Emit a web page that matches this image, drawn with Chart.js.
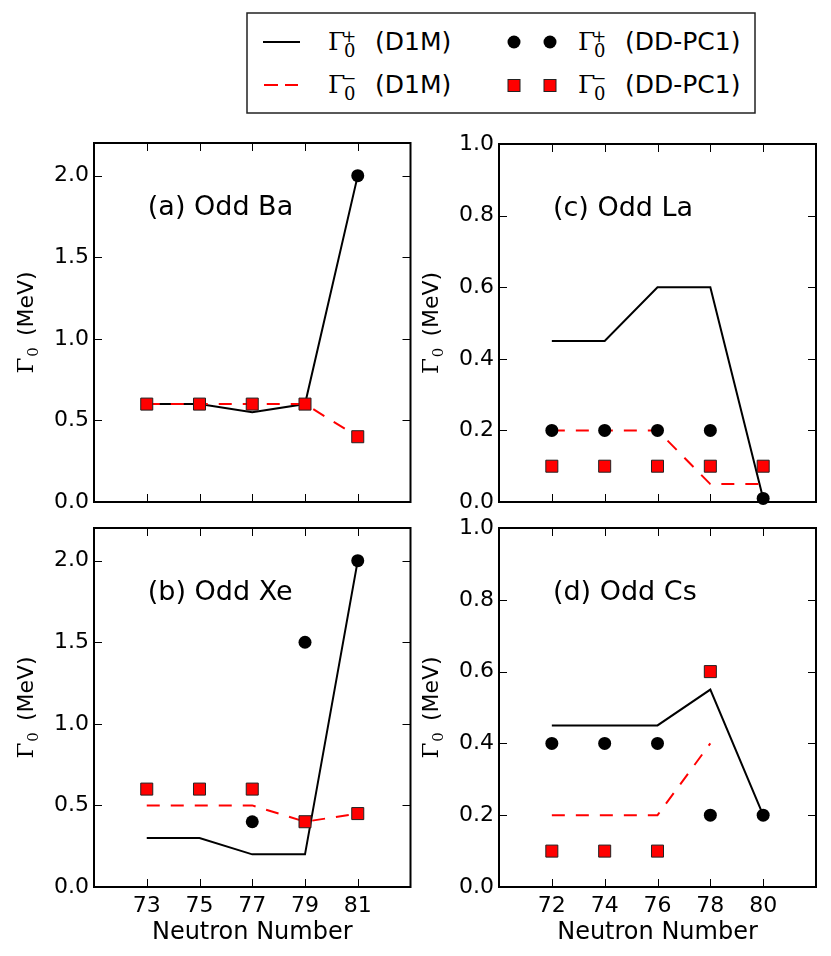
<!DOCTYPE html>
<html>
<head>
<meta charset="utf-8">
<script src="https://cdn.jsdelivr.net/npm/chart.js@4.4.0/dist/chart.umd.min.js"></script>
<style>
  body { margin: 0; background: #fff; width: 831px; height: 956px; position: relative; overflow: hidden; }
  canvas { position: absolute; }
  #legend { position: absolute; left: 0; top: 0; }
</style>
</head>
<body>
<svg id="legend" width="831" height="120" xmlns="http://www.w3.org/2000/svg">
  <rect x="247" y="13" width="508" height="100" fill="#fff" stroke="#222" stroke-width="1.5"/>
  <line x1="263" y1="42" x2="300" y2="42" stroke="#000" stroke-width="2"/>
  <line x1="264" y1="85" x2="298" y2="85" stroke="#ff0000" stroke-width="2" stroke-dasharray="14 7"/>
  <circle cx="514" cy="42" r="6.5" fill="#000"/>
  <circle cx="550" cy="42" r="6.5" fill="#000"/>
  <rect x="508" y="79.5" width="12" height="12" fill="#ff0000" stroke="#222" stroke-width="1"/>
  <rect x="544" y="79.5" width="12" height="12" fill="#ff0000" stroke="#222" stroke-width="1"/>
  <g font-family="DejaVu Serif" fill="#000">
    <text x="328" y="50" font-size="25">Γ</text>
    <text x="342" y="42" font-size="17">+</text>
    <text x="344" y="57" font-size="18">0</text>
    <text x="328" y="93" font-size="25">Γ</text>
    <text x="342" y="84" font-size="17">−</text>
    <text x="344" y="100" font-size="18">0</text>
    <text x="578" y="50" font-size="25">Γ</text>
    <text x="592" y="42" font-size="17">+</text>
    <text x="594" y="57" font-size="18">0</text>
    <text x="578" y="93" font-size="25">Γ</text>
    <text x="592" y="84" font-size="17">−</text>
    <text x="594" y="100" font-size="18">0</text>
  </g>
  <g font-family="DejaVu Sans" font-size="25" fill="#000">
    <text x="375" y="50">(D1M)</text>
    <text x="375" y="93">(D1M)</text>
    <text x="625" y="50">(DD-PC1)</text>
    <text x="625" y="93">(DD-PC1)</text>
  </g>
</svg>

<canvas id="panelA" width="420" height="402" style="left:0px;top:120px"></canvas>
<canvas id="panelB" width="420" height="451" style="left:0px;top:505px"></canvas>
<canvas id="panelC" width="421" height="402" style="left:410px;top:120px"></canvas>
<canvas id="panelD" width="421" height="451" style="left:410px;top:505px"></canvas>

<script>
// odd Ba
const baNeutrons = [73, 75, 77, 79, 81];
const baD1mPlus = [0.6, 0.6, 0.55, 0.6, 2.0];
const baD1mMinus = [0.6, 0.6, 0.6, 0.6, 0.4];
const baPcPlus = [null, null, null, null, 2.0];
const baPcMinus = [0.6, 0.6, 0.6, 0.6, 0.4];

// odd Xe
const xeNeutrons = [73, 75, 77, 79, 81];
const xeD1mPlus = [0.3, 0.3, 0.2, 0.2, 2.0];
const xeD1mMinus = [0.5, 0.5, 0.5, 0.4, 0.45];
const xePcPlus = [null, null, 0.4, 1.5, 2.0];
const xePcMinus = [0.6, 0.6, 0.6, 0.4, 0.45];

// odd La
const laNeutrons = [72, 74, 76, 78, 80];
const laD1mPlus = [0.45, 0.45, 0.6, 0.6, 0.01];
const laD1mMinus = [0.2, 0.2, 0.2, 0.05, 0.05];
const laPcPlus = [0.2, 0.2, 0.2, 0.2, 0.01];
const laPcMinus = [0.1, 0.1, 0.1, 0.1, 0.1];

// odd Cs
const csNeutrons = [72, 74, 76, 78, 80];
const csD1mPlus = [0.45, 0.45, 0.45, 0.55, 0.2];
const csD1mMinus = [0.2, 0.2, 0.2, 0.4, null];
const csPcPlus = [0.4, 0.4, 0.4, 0.2, 0.2];
const csPcMinus = [0.1, 0.1, 0.1, 0.6, null];

const oddTicks = [73, 75, 77, 79, 81];
const evenTicks = [72, 74, 76, 78, 80];
const wideYTicks = [0, 0.5, 1.0, 1.5, 2.0];
const narrowYTicks = [0, 0.2, 0.4, 0.6, 0.8, 1.0];

const SANS = 'DejaVu Sans';
const SERIF = 'DejaVu Serif';

function pts(xs, ys) {
  return xs.map((x, i) => ({ x: x, y: ys[i] }));
}

// inward ticks on all four sides plus the box
const framePlugin = {
  id: 'frame',
  beforeDatasetsDraw(chart) {
    const { ctx, chartArea: a, scales: { x, y } } = chart;
    ctx.save();
    ctx.strokeStyle = '#000';
    ctx.lineWidth = 1;
    ctx.beginPath();
    x.ticks.forEach(t => {
      const px = Math.round(x.getPixelForValue(t.value)) + 0.5;
      ctx.moveTo(px, a.bottom); ctx.lineTo(px, a.bottom - 8);
      ctx.moveTo(px, a.top); ctx.lineTo(px, a.top + 8);
    });
    y.ticks.forEach(t => {
      const py = Math.round(y.getPixelForValue(t.value)) + 0.5;
      ctx.moveTo(a.left, py); ctx.lineTo(a.left + 8, py);
      ctx.moveTo(a.right, py); ctx.lineTo(a.right - 8, py);
    });
    ctx.stroke();
    ctx.lineWidth = 2;
    ctx.strokeRect(a.left, a.top, a.right - a.left, a.bottom - a.top);
    ctx.restore();
  }
};

// panel tag and the Γ0 (MeV) axis title
const textPlugin = {
  id: 'panelText',
  afterDraw(chart, args, opts) {
    const { ctx, chartArea: a } = chart;
    ctx.save();
    ctx.fillStyle = '#000';
    ctx.font = '27px "' + SANS + '"';
    ctx.textAlign = 'left';
    ctx.textBaseline = 'middle';
    ctx.fillText(opts.tag, a.left + 0.17 * (a.right - a.left), a.top + 0.182 * (a.bottom - a.top));

    const cx = a.left - 69;
    const cy = (a.top + a.bottom) / 2;
    ctx.translate(cx, cy);
    ctx.rotate(-Math.PI / 2);
    ctx.textBaseline = 'alphabetic';
    ctx.font = '23px "' + SERIF + '"';
    const wG = ctx.measureText('Γ').width;
    ctx.font = '15px "' + SERIF + '"';
    const wS = ctx.measureText('0').width;
    ctx.font = '22px "' + SANS + '"';
    const wU = ctx.measureText('(MeV)').width;
    const gap = 12;
    let x0 = -(wG + wS + gap + wU) / 2;
    ctx.font = '23px "' + SERIF + '"';
    ctx.fillText('Γ', x0, 8);
    ctx.font = '15px "' + SERIF + '"';
    ctx.fillText('0', x0 + wG + 1, 13);
    ctx.font = '22px "' + SANS + '"';
    ctx.fillText('(MeV)', x0 + wG + wS + gap, 8);
    ctx.restore();
  }
};

function makePanel(id, cfg) {
  const datasets = [
    { label: 'Γ0+ (D1M)', data: pts(cfg.xs, cfg.d1mPlus), showLine: true, borderColor: '#000', borderWidth: 2, pointRadius: 0, order: 4, clip: false },
    { label: 'Γ0− (D1M)', data: pts(cfg.xs, cfg.d1mMinus), showLine: true, borderColor: '#ff0000', borderWidth: 2, borderDash: [13, 11], pointRadius: 0, order: 3, clip: false },
    { label: 'Γ0+ (DD-PC1)', data: pts(cfg.xs, cfg.pcPlus), showLine: false, pointStyle: 'circle', pointRadius: 6.5, backgroundColor: '#000', borderColor: '#000', borderWidth: 0, order: 2, clip: false },
    { label: 'Γ0− (DD-PC1)', data: pts(cfg.xs, cfg.pcMinus), showLine: false, pointStyle: 'rect', pointRadius: 8.5, backgroundColor: '#ff0000', borderColor: '#222', borderWidth: 1, order: 1, clip: false }
  ];

  return new Chart(document.getElementById(id), {
    type: 'scatter',
    data: { datasets: datasets },
    options: {
      responsive: false,
      animation: false,
      events: [],
      layout: { padding: { left: 0, top: cfg.padTop, right: cfg.padRight, bottom: 0 } },
      plugins: {
        legend: { display: false },
        tooltip: { enabled: false },
        panelText: { tag: cfg.tag }
      },
      scales: {
        x: {
          type: 'linear',
          min: cfg.xMin,
          max: cfg.xMax,
          afterBuildTicks: s => { s.ticks = cfg.xTicks.map(v => ({ value: v })); },
          afterFit: s => { s.height = cfg.xBox; },
          grid: { display: false, drawTicks: false, tickLength: 0 },
          border: { display: false },
          ticks: {
            display: cfg.showX,
            padding: 6,
            color: '#000',
            maxRotation: 0,
            autoSkip: false,
            font: { family: SANS, size: 22 },
            callback: v => String(v)
          },
          title: {
            display: cfg.showX,
            text: 'Neutron Number',
            color: '#000',
            font: { family: SANS, size: 24 },
            padding: { top: 0, bottom: 9 }
          }
        },
        y: {
          type: 'linear',
          min: 0,
          max: cfg.yMax,
          afterBuildTicks: s => { s.ticks = cfg.yTicks.map(v => ({ value: v })); },
          afterFit: s => { s.width = cfg.yBox; },
          grid: { display: false, drawTicks: false, tickLength: 0 },
          border: { display: false },
          ticks: {
            padding: 5,
            color: '#000',
            autoSkip: false,
            font: { family: SANS, size: 22 },
            callback: v => v.toFixed(1)
          }
        }
      }
    },
    plugins: [framePlugin, textPlugin]
  });
}

makePanel('panelA', {
  tag: '(a) Odd Ba', xs: baNeutrons, d1mPlus: baD1mPlus, d1mMinus: baD1mMinus, pcPlus: baPcPlus, pcMinus: baPcMinus,
  xMin: 71, xMax: 83, xTicks: oddTicks, yMax: 2.2, yTicks: wideYTicks,
  showX: false, padTop: 23, padRight: 9, yBox: 94, xBox: 20
});
makePanel('panelB', {
  tag: '(b) Odd Xe', xs: xeNeutrons, d1mPlus: xeD1mPlus, d1mMinus: xeD1mMinus, pcPlus: xePcPlus, pcMinus: xePcMinus,
  xMin: 71, xMax: 83, xTicks: oddTicks, yMax: 2.2, yTicks: wideYTicks,
  showX: true, padTop: 23, padRight: 9, yBox: 94, xBox: 69
});
makePanel('panelC', {
  tag: '(c) Odd La', xs: laNeutrons, d1mPlus: laD1mPlus, d1mMinus: laD1mMinus, pcPlus: laPcPlus, pcMinus: laPcMinus,
  xMin: 70, xMax: 82, xTicks: evenTicks, yMax: 1.0, yTicks: narrowYTicks,
  showX: false, padTop: 24, padRight: 15, yBox: 89, xBox: 20
});
makePanel('panelD', {
  tag: '(d) Odd Cs', xs: csNeutrons, d1mPlus: csD1mPlus, d1mMinus: csD1mMinus, pcPlus: csPcPlus, pcMinus: csPcMinus,
  xMin: 70, xMax: 82, xTicks: evenTicks, yMax: 1.0, yTicks: narrowYTicks,
  showX: true, padTop: 23, padRight: 15, yBox: 89, xBox: 69
});
</script>
</body>
</html>
